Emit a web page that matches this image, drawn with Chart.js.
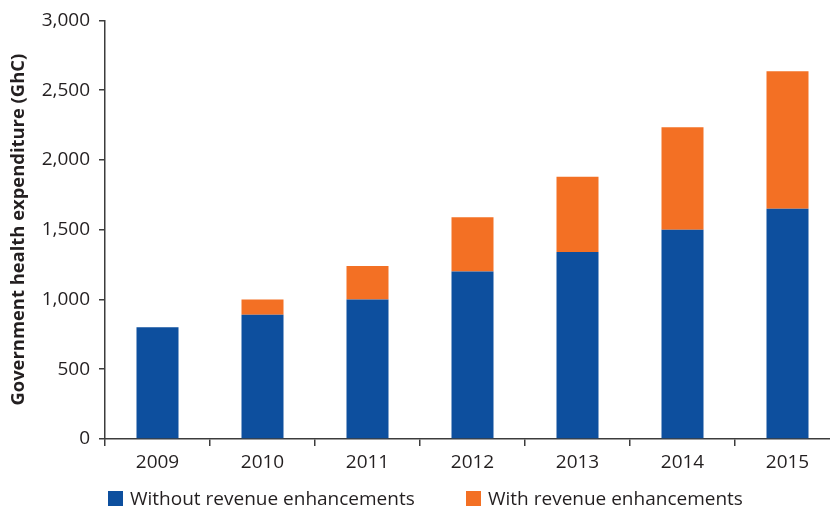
<!DOCTYPE html>
<html>
<head>
<meta charset="utf-8">
<script src="https://cdn.jsdelivr.net/npm/chart.js@4/dist/chart.umd.min.js"></script>
<style>
    html, body { margin: 0; padding: 0; background: #fff; overflow: hidden; }
    #wrap { position: relative; width: 840px; height: 508px; }
    #legend { position: absolute; top: 484px; left: 0; font: 19px "Open Sans", sans-serif; color: #231f20; }
    .item { position: absolute; white-space: nowrap; line-height: 28px; }
    .box { display: inline-block; width: 15px; height: 15px; vertical-align: -1px; margin-right: 7px; }
</style>
</head>
<body>
<div id="wrap">
    <canvas id="chart" width="840" height="508"></canvas>
    <div id="legend"></div>
</div>
<script>
// Chart data
const years = ['2009', '2010', '2011', '2012', '2013', '2014', '2015'];
const withoutEnhancements = [800, 890, 1000, 1200, 1340, 1500, 1650];
const enhancementExtra = [0, 110, 240, 390, 540, 735, 985];
const seriesNames = ['Without revenue enhancements', 'With revenue enhancements'];
const seriesColors = ['#0d4f9e', '#f37024'];
const axisTitle = 'Government health expenditure (GhC)';

const axisColor = '#3c3c3c';
const textColor = '#231f20';
const fontFamily = '"Open Sans", sans-serif';

// Legend (HTML, placed under the axis)
const legendX = [108, 466];
document.getElementById('legend').innerHTML = seriesNames.map((name, i) => `
    <div class="item" style="left:${legendX[i]}px">
        <span class="box" style="background:${seriesColors[i]}"></span>${name}
    </div>
`).join('');

const ctx = document.getElementById('chart').getContext('2d');

new Chart(ctx, {
    type: 'bar',
    data: {
        labels: years,
        datasets: [
            {
                label: seriesNames[0],
                data: withoutEnhancements,
                backgroundColor: seriesColors[0],
                categoryPercentage: 1,
                barPercentage: 0.4
            },
            {
                label: seriesNames[1],
                data: enhancementExtra,
                backgroundColor: seriesColors[1],
                categoryPercentage: 1,
                barPercentage: 0.4
            }
        ]
    },
    options: {
        responsive: false,
        animation: false,
        layout: { padding: { top: 20, right: 0, bottom: 0, left: 0 } },
        plugins: {
            legend: { display: false },
            tooltip: { enabled: false }
        },
        scales: {
            x: {
                stacked: true,
                border: { color: axisColor, width: 1.5 },
                grid: {
                    drawOnChartArea: false,
                    color: axisColor,
                    lineWidth: 1.5,
                    tickLength: 7,
                    offset: true
                },
                ticks: {
                    color: textColor,
                    padding: 5,
                    font: { family: fontFamily, size: 19 }
                },
                afterFit: scale => { scale.height = 69; }
            },
            y: {
                stacked: true,
                min: 0,
                max: 3000,
                border: { color: axisColor, width: 1.5 },
                grid: {
                    drawOnChartArea: false,
                    color: axisColor,
                    lineWidth: 1.5,
                    tickLength: 6
                },
                ticks: {
                    stepSize: 500,
                    color: textColor,
                    padding: 9,
                    font: { family: fontFamily, size: 19 },
                    callback: value => value.toLocaleString('en-US')
                },
                title: {
                    display: true,
                    text: axisTitle,
                    color: textColor,
                    padding: { top: 8, bottom: 0 },
                    font: { family: fontFamily, size: 18.4, weight: 'bold' }
                },
                afterFit: scale => { scale.width = 105; }
            }
        }
    }
});
</script>
</body>
</html>
